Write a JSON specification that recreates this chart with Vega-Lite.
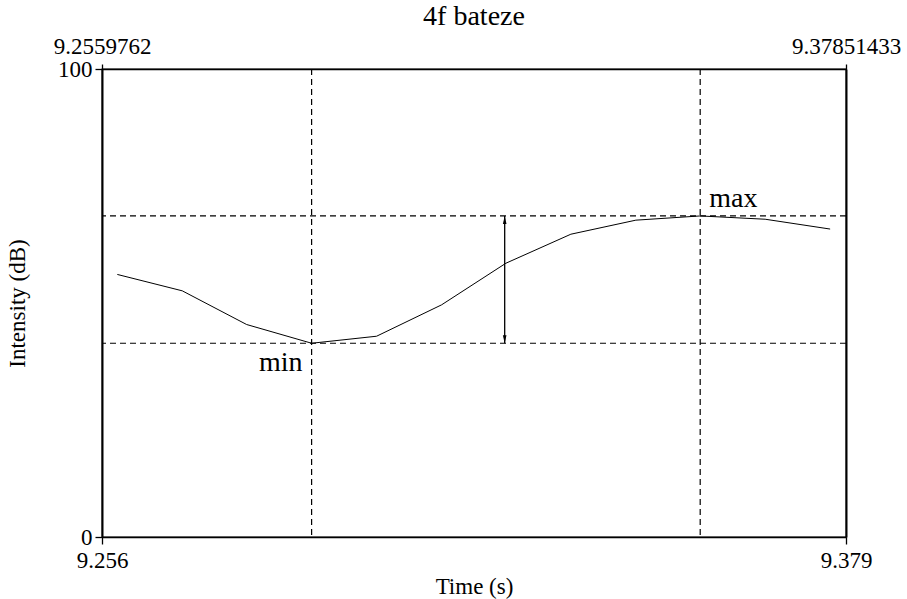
{
  "$schema": "https://vega.github.io/schema/vega-lite/v6.json",
  "width": 744,
  "height": 468,
  "autosize": "none",
  "padding": {"left": 102, "top": 69, "right": 61, "bottom": 62},
  "background": "white",
  "title": {
    "text": "4f bateze",
    "font": "Liberation Serif",
    "fontSize": 28,
    "fontWeight": "normal",
    "color": "black",
    "anchor": "middle",
    "offset": 4
  },
  "config": {
    "font": "Liberation Serif",
    "view": {"stroke": "black", "strokeWidth": 1.3},
    "axis": {
      "labelFont": "Liberation Serif",
      "labelFontSize": 23,
      "labelColor": "black",
      "titleFont": "Liberation Serif",
      "titleFontSize": 23,
      "titleFontWeight": "normal",
      "titleColor": "black",
      "domainColor": "black",
      "tickColor": "black",
      "grid": false,
      "labelFlush": false,
      "labelOverlap": false,
      "labelBound": false
    }
  },
  "datasets": {
    "intensity": [
      {"t": 9.2585, "db": 56.1},
      {"t": 9.2692, "db": 52.6},
      {"t": 9.2798, "db": 45.4},
      {"t": 9.2905, "db": 41.4},
      {"t": 9.3012, "db": 42.9},
      {"t": 9.3119, "db": 49.6},
      {"t": 9.3225, "db": 58.5},
      {"t": 9.3332, "db": 64.7},
      {"t": 9.3439, "db": 67.7},
      {"t": 9.3545, "db": 68.6},
      {"t": 9.3652, "db": 67.9},
      {"t": 9.3759, "db": 65.8}
    ],
    "extremes": [
      {"label": "min", "t": 9.2905, "db": 41.4},
      {"label": "max", "t": 9.3545, "db": 68.6}
    ],
    "range": [
      {"t": 9.3223, "lo": 41.4, "hi": 68.6}
    ]
  },
  "resolve": {"axis": {"x": "independent", "y": "independent"}},
  "layer": [
    {
      "data": {"name": "intensity"},
      "mark": {"type": "line", "color": "black", "strokeWidth": 1},
      "encoding": {
        "x": {
          "field": "t",
          "type": "quantitative",
          "scale": {"domain": [9.2559762, 9.37851433], "nice": false, "zero": false},
          "axis": {
            "orient": "bottom",
            "values": [9.2559762, 9.37851433],
            "format": ".3f",
            "tickSize": 7,
            "tickWidth": 1.3,
            "domainWidth": 1.3,
            "labelPadding": 5,
            "title": "Time (s)",
            "titlePadding": 3
          }
        },
        "y": {
          "field": "db",
          "type": "quantitative",
          "scale": {"domain": [0, 100], "nice": false},
          "axis": {
            "orient": "left",
            "values": [0, 100],
            "format": "d",
            "tickSize": 7,
            "tickWidth": 1.3,
            "domainWidth": 2,
            "labelPadding": 3,
            "title": "Intensity (dB)",
            "titlePadding": 28
          }
        }
      }
    },
    {
      "data": {"name": "extremes"},
      "mark": {"type": "rule", "color": "black", "strokeWidth": 1.2, "strokeDash": [6, 4]},
      "encoding": {
        "x": {
          "field": "t",
          "type": "quantitative",
          "axis": {
            "orient": "top",
            "values": [9.2559762, 9.37851433],
            "labelExpr": "datum.value < 9.3 ? '9.2559762' : '9.37851433'",
            "tickSize": 5,
            "tickWidth": 1.3,
            "domainWidth": 1.3,
            "labelPadding": 6,
            "title": null
          }
        }
      }
    },
    {
      "data": {"name": "extremes"},
      "mark": {"type": "rule", "color": "black", "strokeWidth": 1.2, "strokeDash": [6, 4]},
      "encoding": {
        "y": {
          "field": "db",
          "type": "quantitative",
          "axis": {
            "orient": "right",
            "values": [],
            "ticks": false,
            "labels": false,
            "domainWidth": 2,
            "title": null
          }
        }
      }
    },
    {
      "data": {"name": "range"},
      "mark": {"type": "rule", "color": "black", "strokeWidth": 1.3},
      "encoding": {
        "x": {"field": "t", "type": "quantitative", "axis": null},
        "y": {"field": "lo", "type": "quantitative", "axis": null},
        "y2": {"field": "hi"}
      }
    },
    {
      "data": {"name": "range"},
      "mark": {"type": "point", "shape": "M0,0L-0.45,2L0.45,2Z", "size": 64, "filled": true, "color": "black", "opacity": 1},
      "encoding": {
        "x": {"field": "t", "type": "quantitative", "axis": null},
        "y": {"field": "hi", "type": "quantitative", "axis": null}
      }
    },
    {
      "data": {"name": "range"},
      "mark": {"type": "point", "shape": "M0,0L-0.45,-2L0.45,-2Z", "size": 64, "filled": true, "color": "black", "opacity": 1},
      "encoding": {
        "x": {"field": "t", "type": "quantitative", "axis": null},
        "y": {"field": "lo", "type": "quantitative", "axis": null}
      }
    },
    {
      "data": {"name": "extremes"},
      "transform": [{"filter": "datum.label == 'min'"}],
      "mark": {"type": "text", "align": "right", "baseline": "alphabetic", "dx": -9, "dy": 28, "fontSize": 28, "color": "black", "font": "Liberation Serif"},
      "encoding": {
        "x": {"field": "t", "type": "quantitative", "axis": null},
        "y": {"field": "db", "type": "quantitative", "axis": null},
        "text": {"field": "label"}
      }
    },
    {
      "data": {"name": "extremes"},
      "transform": [{"filter": "datum.label == 'max'"}],
      "mark": {"type": "text", "align": "left", "baseline": "alphabetic", "dx": 9, "dy": -9, "fontSize": 28, "color": "black", "font": "Liberation Serif"},
      "encoding": {
        "x": {"field": "t", "type": "quantitative", "axis": null},
        "y": {"field": "db", "type": "quantitative", "axis": null},
        "text": {"field": "label"}
      }
    }
  ]
}
